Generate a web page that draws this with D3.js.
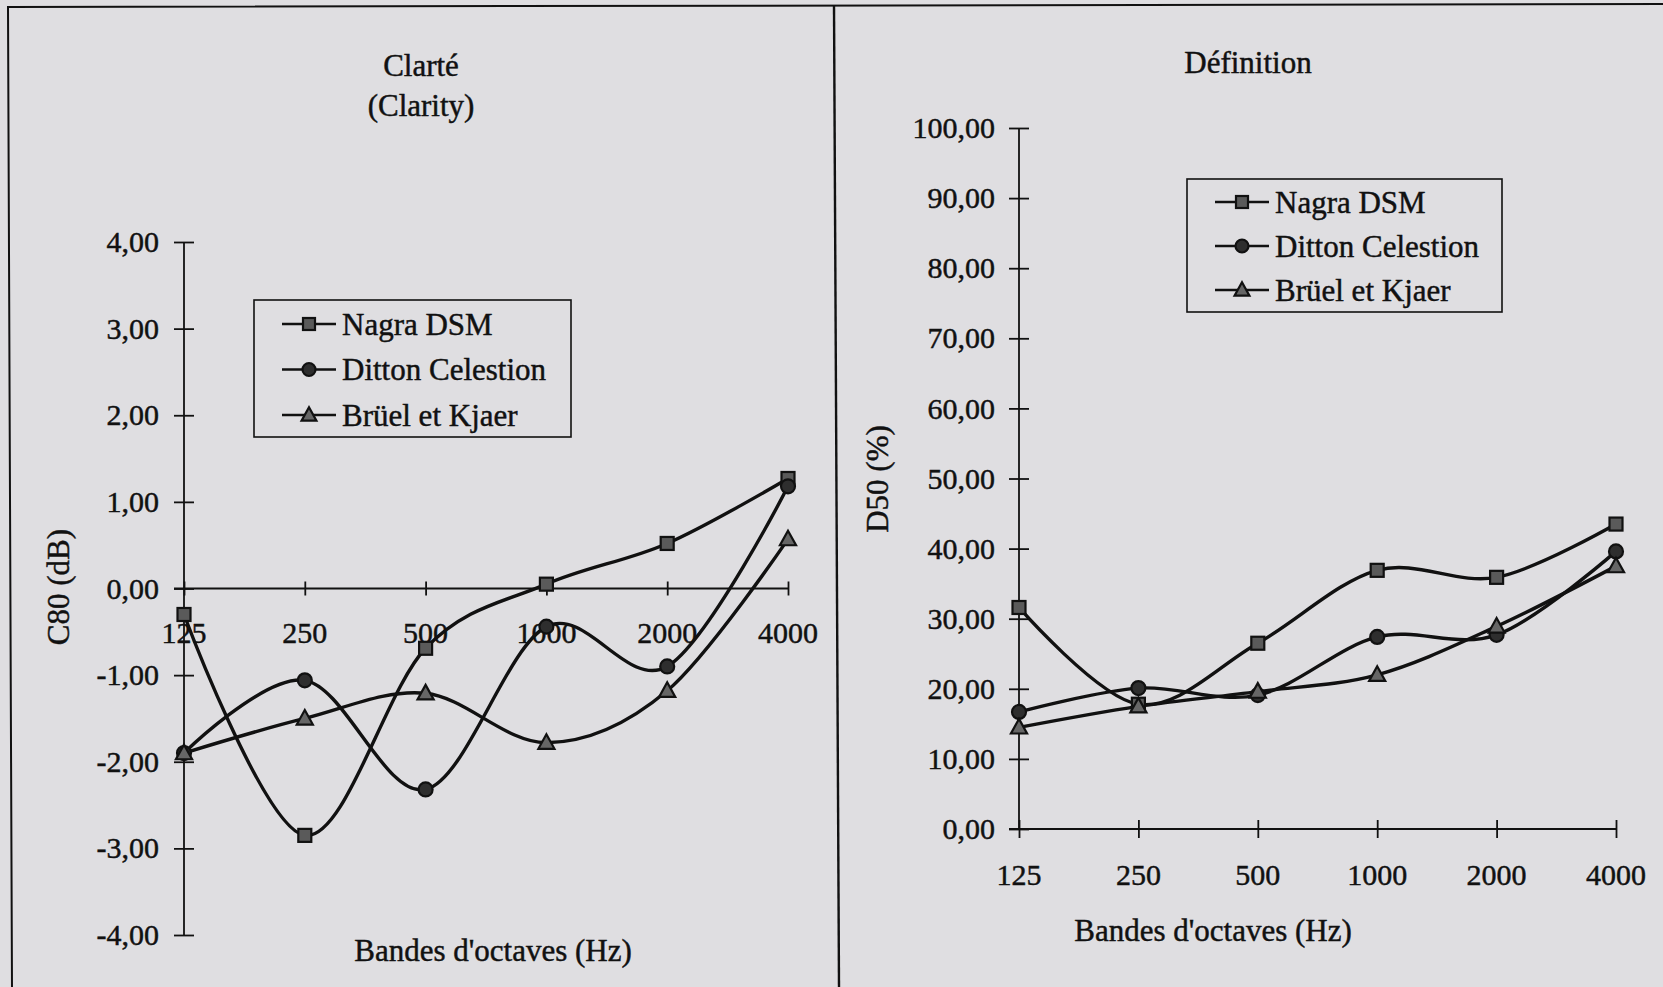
<!DOCTYPE html>
<html>
<head>
<meta charset="utf-8">
<script src="https://cdn.jsdelivr.net/npm/d3@7"></script>
<style>
html,body{margin:0;padding:0;background:#dfdee1;}
svg{display:block;}
text{font-family:"Liberation Serif","Times New Roman",serif;fill:#111;stroke:#111;stroke-width:0.45px;}
</style>
</head>
<body>
<svg id="chart" width="1663" height="987"></svg>
<script>
// ---- data ----
const bands = ["125", "250", "500", "1000", "2000", "4000"];
const seriesNames = ["Nagra DSM", "Ditton Celestion", "Brüel et Kjaer"];
const markerTypes = ["square", "circle", "triangle"];

// Clarté C80 (dB)
const c80Nagra  = [-0.30, -2.85, -0.69, 0.05, 0.52, 1.27];
const c80Ditton = [-1.90, -1.06, -2.32, -0.44, -0.90, 1.18];
const c80Bruel  = [-1.90, -1.50, -1.21, -1.78, -1.18, 0.57];
const c80Ticks  = [4, 3, 2, 1, 0, -1, -2, -3, -4];

// Définition D50 (%)
const d50Nagra  = [31.6, 17.8, 26.5, 36.9, 35.9, 43.5];
const d50Ditton = [16.7, 20.1, 19.1, 27.4, 27.7, 39.6];
const d50Bruel  = [14.5, 17.5, 19.6, 22.0, 28.9, 37.5];
const d50Ticks  = [0, 10, 20, 30, 40, 50, 60, 70, 80, 90, 100];

const svg = d3.select("#chart");
const fmt = v => (v < 0 ? "-" : "") + Math.abs(v).toFixed(2).replace(".", ",");

// panel frames
svg.append("path").attr("d", "M12,987 L8,7 L1663,4").attr("fill","none").attr("stroke","#111").attr("stroke-width",2);
svg.append("line").attr("x1",834).attr("y1",5).attr("x2",839).attr("y2",987).attr("stroke","#111").attr("stroke-width",2.4);

function marker(g, type, x, y, s) {
  if (type === "square") {
    g.append("rect").attr("x", x - s/2).attr("y", y - s/2).attr("width", s).attr("height", s)
      .attr("fill", "#5a5a5a").attr("stroke", "#111").attr("stroke-width", 2.2);
  } else if (type === "circle") {
    g.append("circle").attr("cx", x).attr("cy", y).attr("r", s/2 + 0.5)
      .attr("fill", "#2e2e2e").attr("stroke", "#111").attr("stroke-width", 2.2);
  } else {
    const h = s * 1.05;
    g.append("path").attr("d", `M${x},${y - h*0.62} L${x + s*0.62},${y + h*0.45} L${x - s*0.62},${y + h*0.45} Z`)
      .attr("fill", "#666").attr("stroke", "#111").attr("stroke-width", 2.2);
  }
}

function drawPanel(cfg) {
  const g = svg.append("g");
  const x = d3.scalePoint().domain(bands).range([cfg.x0, cfg.x1]);
  const y = d3.scaleLinear().domain(cfg.domain).range([cfg.yBottom, cfg.yTop]);

  // y axis
  const ya = g.append("g").attr("transform", `translate(${cfg.x0},0)`)
    .call(d3.axisLeft(y).tickValues(cfg.ticks).tickFormat(fmt).tickSize(10).tickPadding(14));
  ya.select(".domain").attr("stroke", "#111").attr("stroke-width", 1.8);
  ya.selectAll(".tick line").attr("x1", -10).attr("x2", 10).attr("stroke", "#111").attr("stroke-width", 1.8);
  ya.selectAll(".tick text").attr("font-size", 30).attr("font-family", "Liberation Serif").attr("fill", "#111")
    .attr("x", cfg.yLabelRight - cfg.x0);
  ya.selectAll(".domain").attr("d", `M0,${cfg.yBottom}V${cfg.yTop}`);

  // x axis
  const xa = g.append("g").attr("transform", `translate(0,${y(cfg.xAxisAt)})`)
    .call(d3.axisBottom(x).tickSize(cfg.xTick).tickSizeOuter(0).tickFormat(d => ""));
  xa.select(".domain").attr("stroke", "#111").attr("stroke-width", 1.8).attr("d", `M${cfg.x0 - 10},0H${cfg.x1}`);
  xa.selectAll(".tick line").attr("y1", -cfg.xTick).attr("y2", cfg.xTick).attr("stroke", "#111").attr("stroke-width", 1.8);
  // category labels
  g.selectAll(".catlab").data(bands).enter().append("text")
    .attr("x", d => x(d)).attr("y", cfg.catLabelY).attr("text-anchor", "middle")
    .attr("font-size", 30).text(d => d);

  // lines
  const line = d3.line().x((d, i) => x(bands[i])).y(d => y(d)).curve(d3.curveCatmullRom.alpha(0));
  cfg.series.forEach((s, k) => {
    g.append("path").datum(s).attr("d", line).attr("fill", "none").attr("stroke", "#111").attr("stroke-width", 3.4);
  });
  cfg.series.forEach((s, k) => {
    s.forEach((v, i) => marker(g, markerTypes[k], x(bands[i]), y(v), 13));
  });

  // titles
  cfg.title.forEach((t, i) => {
    g.append("text").attr("x", cfg.titleX).attr("y", cfg.titleY + i * 40).attr("text-anchor", "middle")
      .attr("font-size", 31).text(t);
  });
  g.append("text").attr("transform", `translate(${cfg.yTitleX},${cfg.yTitleY}) rotate(-90)`)
    .attr("text-anchor", "middle").attr("dy", "0.35em").attr("font-size", 31).text(cfg.yTitle);
  g.append("text").attr("x", cfg.xTitleX).attr("y", cfg.xTitleY).attr("text-anchor", "middle")
    .attr("dy", "0.35em").attr("font-size", 31).text("Bandes d'octaves (Hz)");

  // legend
  const lg = g.append("g");
  lg.append("rect").attr("x", cfg.legend.x).attr("y", cfg.legend.y).attr("width", cfg.legend.w).attr("height", cfg.legend.h)
    .attr("fill", "none").attr("stroke", "#111").attr("stroke-width", 1.6);
  seriesNames.forEach((n, k) => {
    const ry = cfg.legend.y + cfg.legend.row0 + k * cfg.legend.step;
    const lx = cfg.legend.x + 28;
    lg.append("line").attr("x1", lx).attr("x2", lx + 54).attr("y1", ry).attr("y2", ry).attr("stroke", "#111").attr("stroke-width", 2.6);
    marker(lg, markerTypes[k], lx + 27, ry, 12);
    lg.append("text").attr("x", lx + 60).attr("y", ry).attr("dy", "0.35em").attr("font-size", 31).text(n);
  });
}

drawPanel({
  x0: 184, x1: 788, yTop: 242, yBottom: 935, domain: [-4, 4], ticks: c80Ticks, xAxisAt: 0, xTick: 7,
  yLabelRight: 159, catLabelY: 643,
  series: [c80Nagra, c80Ditton, c80Bruel],
  title: ["Clarté", "(Clarity)"], titleX: 421, titleY: 76,
  yTitle: "C80 (dB)", yTitleX: 58, yTitleY: 587,
  xTitleX: 493, xTitleY: 950,
  legend: {x: 254, y: 300, w: 317, h: 137, row0: 24, step: 45.5}
});

drawPanel({
  x0: 1019, x1: 1616, yTop: 128, yBottom: 829, domain: [0, 100], ticks: d50Ticks, xAxisAt: 0, xTick: 9,
  yLabelRight: 995, catLabelY: 885,
  series: [d50Nagra, d50Ditton, d50Bruel],
  title: ["Définition"], titleX: 1248, titleY: 73,
  yTitle: "D50 (%)", yTitleX: 877, yTitleY: 479,
  xTitleX: 1213, xTitleY: 930,
  legend: {x: 1187, y: 179, w: 315, h: 133, row0: 23, step: 44}
});
</script>
</body>
</html>
